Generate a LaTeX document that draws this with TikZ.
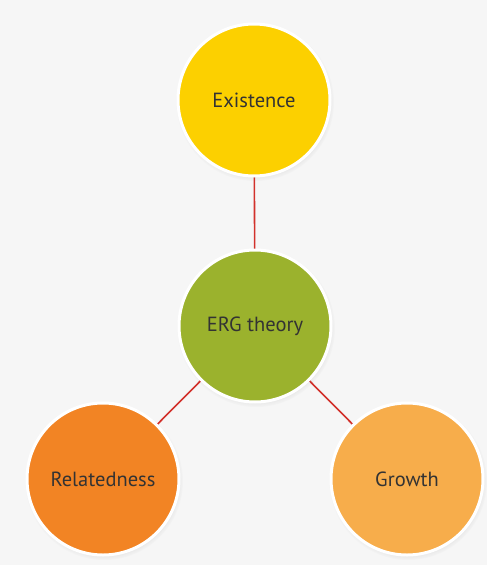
\documentclass[tikz,border=0pt]{standalone}
\usepackage{fontspec}
\setmainfont{PT Sans}
\usetikzlibrary{shadows}
\definecolor{bgc}{HTML}{F6F6F6}
\definecolor{cyel}{HTML}{FCD000}
\definecolor{cgrn}{HTML}{9BB22D}
\definecolor{corg}{HTML}{F28424}
\definecolor{clor}{HTML}{F7AD4B}
\definecolor{linec}{HTML}{D2312B}
\definecolor{txtc}{HTML}{333333}
\begin{document}
\begin{tikzpicture}[x=1pt,y=-1pt,
  bubble/.style={circle, draw=white, line width=3pt, minimum size=152pt, inner sep=0pt,
    text=txtc, font=\fontsize{20.5}{24}\selectfont,
    circular drop shadow={shadow xshift=1pt, shadow yshift=-2pt, shadow scale=1.04, opacity=0.25}},
  link/.style={draw=linec, line width=1.6pt}]
\fill[bgc] (0,0) rectangle (487,565);
\useasboundingbox (0,0) rectangle (487,565);
\coordinate (ec) at (254,100);
\coordinate (gc) at (255,326);
\coordinate (rc) at (103,479);
\coordinate (wc) at (407,479);
\draw[link] (ec) -- (gc);
\draw[link] (gc) -- (rc);
\draw[link] (gc) -- (wc);
\node[bubble, fill=cyel] (ex) at (ec) {Existence};
\node[bubble, fill=cgrn] (erg) at (gc) {ERG theory};
\node[bubble, fill=corg] (rel) at (rc) {Relatedness};
\node[bubble, fill=clor] (gro) at (wc) {Growth};
\end{tikzpicture}
\end{document}
